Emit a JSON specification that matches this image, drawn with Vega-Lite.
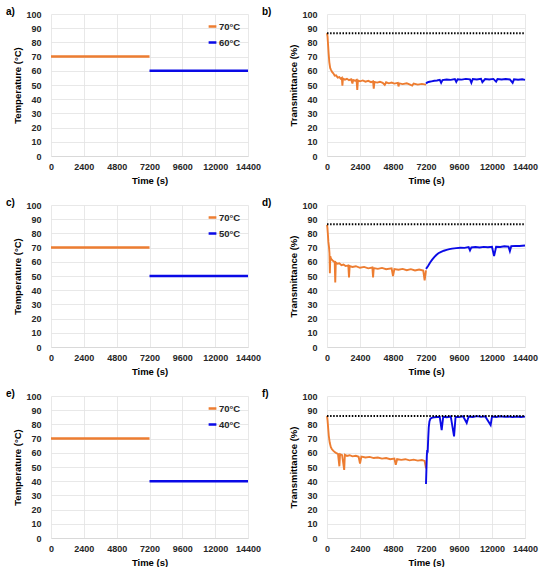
{
  "$schema": "https://vega.github.io/schema/vega-lite/v6.json",
  "padding": {"left": 5, "top": 7, "right": 5, "bottom": 0},
  "background": "white",
  "spacing": 13,
  "config": {
    "view": {"stroke": null},
    "font": "Liberation Sans",
    "axis": {
      "labelFont": "Liberation Sans",
      "labelFontWeight": "bold",
      "labelFontSize": 9,
      "labelColor": "#262626",
      "labelOverlap": false,
      "labelFlush": false,
      "titleFont": "Liberation Sans",
      "titleFontWeight": "bold",
      "titleFontSize": 9.5,
      "titleColor": "#000000",
      "gridColor": "#e2e2e2",
      "gridWidth": 0.8,
      "domainColor": "#d9d9d9",
      "ticks": false
    },
    "axisX": {"labelPadding": 6, "titlePadding": 4},
    "axisY": {"labelPadding": 10, "titlePadding": 3, "domain": false},
    "legend": {
      "labelFont": "Liberation Sans",
      "labelFontWeight": "bold",
      "labelFontSize": 9.5,
      "labelColor": "#262626",
      "symbolType": "stroke",
      "symbolSize": 60,
      "symbolStrokeWidth": 2.5,
      "labelOffset": 1,
      "rowPadding": 5,
      "orient": "top-right",
      "offset": 7
    },
    "title": {"font": "Liberation Sans", "fontSize": 10, "fontWeight": "bold", "anchor": "start", "frame": "bounds", "offset": 0, "dy": 11, "color": "#000000"}
  },
  "datasets": {
    "temp": [
      {"p": "a", "s": "70°C", "t": 0, "v": 70}, {"p": "a", "s": "70°C", "t": 7200, "v": 70},
      {"p": "a", "s": "60°C", "t": 7200, "v": 60}, {"p": "a", "s": "60°C", "t": 14400, "v": 60},
      {"p": "c", "s": "70°C", "t": 0, "v": 70}, {"p": "c", "s": "70°C", "t": 7200, "v": 70},
      {"p": "c", "s": "50°C", "t": 7200, "v": 50}, {"p": "c", "s": "50°C", "t": 14400, "v": 50},
      {"p": "e", "s": "70°C", "t": 0, "v": 70}, {"p": "e", "s": "70°C", "t": 7200, "v": 70},
      {"p": "e", "s": "40°C", "t": 7200, "v": 40}, {"p": "e", "s": "40°C", "t": 14400, "v": 40}
    ],
    "ref": [
      {"p": "b", "t": 0, "v": 86.4}, {"p": "b", "t": 14400, "v": 86.4},
      {"p": "d", "t": 0, "v": 86.5}, {"p": "d", "t": 14400, "v": 86.5},
      {"p": "f", "t": 0, "v": 86}, {"p": "f", "t": 14400, "v": 86}
    ],
    "trans": [
      {"p": "b", "s": "70°C", "t": 0, "v": 86.5}, {"p": "b", "s": "70°C", "t": 40, "v": 84}, {"p": "b", "s": "70°C", "t": 80, "v": 78},
      {"p": "b", "s": "70°C", "t": 120, "v": 72}, {"p": "b", "s": "70°C", "t": 170, "v": 66}, {"p": "b", "s": "70°C", "t": 230, "v": 62},
      {"p": "b", "s": "70°C", "t": 300, "v": 60.5}, {"p": "b", "s": "70°C", "t": 380, "v": 59}, {"p": "b", "s": "70°C", "t": 460, "v": 58.2},
      {"p": "b", "s": "70°C", "t": 560, "v": 56.6}, {"p": "b", "s": "70°C", "t": 660, "v": 56.8}, {"p": "b", "s": "70°C", "t": 780, "v": 55.2},
      {"p": "b", "s": "70°C", "t": 900, "v": 55.6}, {"p": "b", "s": "70°C", "t": 1000, "v": 54.4}, {"p": "b", "s": "70°C", "t": 1080, "v": 55},
      {"p": "b", "s": "70°C", "t": 1120, "v": 49.5}, {"p": "b", "s": "70°C", "t": 1160, "v": 54.5}, {"p": "b", "s": "70°C", "t": 1300, "v": 53.8},
      {"p": "b", "s": "70°C", "t": 1450, "v": 54.4}, {"p": "b", "s": "70°C", "t": 1600, "v": 53.4}, {"p": "b", "s": "70°C", "t": 1750, "v": 54},
      {"p": "b", "s": "70°C", "t": 1850, "v": 51}, {"p": "b", "s": "70°C", "t": 1900, "v": 53.5}, {"p": "b", "s": "70°C", "t": 2050, "v": 53},
      {"p": "b", "s": "70°C", "t": 2150, "v": 53.6}, {"p": "b", "s": "70°C", "t": 2200, "v": 46.5}, {"p": "b", "s": "70°C", "t": 2250, "v": 53.2},
      {"p": "b", "s": "70°C", "t": 2400, "v": 52.6}, {"p": "b", "s": "70°C", "t": 2600, "v": 53.2}, {"p": "b", "s": "70°C", "t": 2800, "v": 52.3},
      {"p": "b", "s": "70°C", "t": 3000, "v": 52.9}, {"p": "b", "s": "70°C", "t": 3200, "v": 52}, {"p": "b", "s": "70°C", "t": 3350, "v": 52.6},
      {"p": "b", "s": "70°C", "t": 3400, "v": 47.5}, {"p": "b", "s": "70°C", "t": 3450, "v": 52.2}, {"p": "b", "s": "70°C", "t": 3650, "v": 51.7},
      {"p": "b", "s": "70°C", "t": 3850, "v": 52.3}, {"p": "b", "s": "70°C", "t": 4050, "v": 51.5}, {"p": "b", "s": "70°C", "t": 4200, "v": 50},
      {"p": "b", "s": "70°C", "t": 4300, "v": 51.9}, {"p": "b", "s": "70°C", "t": 4500, "v": 51.2}, {"p": "b", "s": "70°C", "t": 4700, "v": 51.7},
      {"p": "b", "s": "70°C", "t": 4900, "v": 51}, {"p": "b", "s": "70°C", "t": 5150, "v": 51.5}, {"p": "b", "s": "70°C", "t": 5200, "v": 49},
      {"p": "b", "s": "70°C", "t": 5250, "v": 51.1}, {"p": "b", "s": "70°C", "t": 5500, "v": 50.6}, {"p": "b", "s": "70°C", "t": 5800, "v": 51.2},
      {"p": "b", "s": "70°C", "t": 6000, "v": 50.5}, {"p": "b", "s": "70°C", "t": 6200, "v": 49.6}, {"p": "b", "s": "70°C", "t": 6300, "v": 51},
      {"p": "b", "s": "70°C", "t": 6600, "v": 50.3}, {"p": "b", "s": "70°C", "t": 6900, "v": 50.8}, {"p": "b", "s": "70°C", "t": 7200, "v": 50.3},
      {"p": "b", "s": "60°C", "t": 7200, "v": 51}, {"p": "b", "s": "60°C", "t": 7300, "v": 51.8}, {"p": "b", "s": "60°C", "t": 7450, "v": 52.3},
      {"p": "b", "s": "60°C", "t": 7600, "v": 52.6}, {"p": "b", "s": "60°C", "t": 7800, "v": 53}, {"p": "b", "s": "60°C", "t": 8000, "v": 53.2},
      {"p": "b", "s": "60°C", "t": 8200, "v": 53.6}, {"p": "b", "s": "60°C", "t": 8300, "v": 51.5}, {"p": "b", "s": "60°C", "t": 8400, "v": 53.5},
      {"p": "b", "s": "60°C", "t": 8700, "v": 53.9}, {"p": "b", "s": "60°C", "t": 9000, "v": 53.6}, {"p": "b", "s": "60°C", "t": 9300, "v": 54.1},
      {"p": "b", "s": "60°C", "t": 9400, "v": 52.2}, {"p": "b", "s": "60°C", "t": 9500, "v": 54}, {"p": "b", "s": "60°C", "t": 9800, "v": 53.8},
      {"p": "b", "s": "60°C", "t": 10100, "v": 54.3}, {"p": "b", "s": "60°C", "t": 10400, "v": 54}, {"p": "b", "s": "60°C", "t": 10500, "v": 51.5},
      {"p": "b", "s": "60°C", "t": 10600, "v": 54.2}, {"p": "b", "s": "60°C", "t": 10900, "v": 53.9}, {"p": "b", "s": "60°C", "t": 11200, "v": 54.4},
      {"p": "b", "s": "60°C", "t": 11300, "v": 52}, {"p": "b", "s": "60°C", "t": 11500, "v": 54.2}, {"p": "b", "s": "60°C", "t": 11800, "v": 53.9},
      {"p": "b", "s": "60°C", "t": 12100, "v": 54.3}, {"p": "b", "s": "60°C", "t": 12300, "v": 52.3}, {"p": "b", "s": "60°C", "t": 12400, "v": 54.2},
      {"p": "b", "s": "60°C", "t": 12700, "v": 53.9}, {"p": "b", "s": "60°C", "t": 13000, "v": 54.2}, {"p": "b", "s": "60°C", "t": 13300, "v": 53.9},
      {"p": "b", "s": "60°C", "t": 13500, "v": 51.5}, {"p": "b", "s": "60°C", "t": 13600, "v": 54}, {"p": "b", "s": "60°C", "t": 13900, "v": 53.7},
      {"p": "b", "s": "60°C", "t": 14200, "v": 54}, {"p": "b", "s": "60°C", "t": 14400, "v": 53.6},

      {"p": "d", "s": "70°C", "t": 0, "v": 86}, {"p": "d", "s": "70°C", "t": 30, "v": 84}, {"p": "d", "s": "70°C", "t": 60, "v": 80},
      {"p": "d", "s": "70°C", "t": 100, "v": 74}, {"p": "d", "s": "70°C", "t": 150, "v": 70}, {"p": "d", "s": "70°C", "t": 180, "v": 66},
      {"p": "d", "s": "70°C", "t": 210, "v": 52}, {"p": "d", "s": "70°C", "t": 240, "v": 64}, {"p": "d", "s": "70°C", "t": 280, "v": 62.5},
      {"p": "d", "s": "70°C", "t": 350, "v": 61.5}, {"p": "d", "s": "70°C", "t": 450, "v": 60.5}, {"p": "d", "s": "70°C", "t": 560, "v": 59.8},
      {"p": "d", "s": "70°C", "t": 600, "v": 45.5}, {"p": "d", "s": "70°C", "t": 640, "v": 59.5}, {"p": "d", "s": "70°C", "t": 750, "v": 58.6},
      {"p": "d", "s": "70°C", "t": 900, "v": 58.9}, {"p": "d", "s": "70°C", "t": 1050, "v": 57.6}, {"p": "d", "s": "70°C", "t": 1200, "v": 58.1},
      {"p": "d", "s": "70°C", "t": 1350, "v": 57}, {"p": "d", "s": "70°C", "t": 1550, "v": 57.5}, {"p": "d", "s": "70°C", "t": 1600, "v": 49},
      {"p": "d", "s": "70°C", "t": 1650, "v": 57}, {"p": "d", "s": "70°C", "t": 1850, "v": 56.4}, {"p": "d", "s": "70°C", "t": 2100, "v": 56.9},
      {"p": "d", "s": "70°C", "t": 2400, "v": 55.8}, {"p": "d", "s": "70°C", "t": 2700, "v": 56.4}, {"p": "d", "s": "70°C", "t": 3000, "v": 55.4},
      {"p": "d", "s": "70°C", "t": 3300, "v": 56}, {"p": "d", "s": "70°C", "t": 3350, "v": 49}, {"p": "d", "s": "70°C", "t": 3400, "v": 55.6},
      {"p": "d", "s": "70°C", "t": 3700, "v": 55}, {"p": "d", "s": "70°C", "t": 4000, "v": 55.7}, {"p": "d", "s": "70°C", "t": 4300, "v": 54.8},
      {"p": "d", "s": "70°C", "t": 4700, "v": 55.4}, {"p": "d", "s": "70°C", "t": 4800, "v": 50}, {"p": "d", "s": "70°C", "t": 4900, "v": 54.9},
      {"p": "d", "s": "70°C", "t": 5200, "v": 54.4}, {"p": "d", "s": "70°C", "t": 5500, "v": 55}, {"p": "d", "s": "70°C", "t": 5800, "v": 54.1},
      {"p": "d", "s": "70°C", "t": 6100, "v": 54.8}, {"p": "d", "s": "70°C", "t": 6400, "v": 53.9}, {"p": "d", "s": "70°C", "t": 6700, "v": 54.6},
      {"p": "d", "s": "70°C", "t": 7000, "v": 53.8}, {"p": "d", "s": "70°C", "t": 7100, "v": 47}, {"p": "d", "s": "70°C", "t": 7200, "v": 54},
      {"p": "d", "s": "50°C", "t": 7200, "v": 55}, {"p": "d", "s": "50°C", "t": 7350, "v": 57}, {"p": "d", "s": "50°C", "t": 7500, "v": 59.5},
      {"p": "d", "s": "50°C", "t": 7650, "v": 61.5}, {"p": "d", "s": "50°C", "t": 7800, "v": 63.3}, {"p": "d", "s": "50°C", "t": 7950, "v": 64.8},
      {"p": "d", "s": "50°C", "t": 8100, "v": 66}, {"p": "d", "s": "50°C", "t": 8300, "v": 67}, {"p": "d", "s": "50°C", "t": 8500, "v": 67.8},
      {"p": "d", "s": "50°C", "t": 8700, "v": 68.4}, {"p": "d", "s": "50°C", "t": 8900, "v": 68.9}, {"p": "d", "s": "50°C", "t": 9100, "v": 69.3},
      {"p": "d", "s": "50°C", "t": 9400, "v": 69.6}, {"p": "d", "s": "50°C", "t": 9700, "v": 69.9}, {"p": "d", "s": "50°C", "t": 10000, "v": 69.8},
      {"p": "d", "s": "50°C", "t": 10300, "v": 70.3}, {"p": "d", "s": "50°C", "t": 10400, "v": 68}, {"p": "d", "s": "50°C", "t": 10500, "v": 70.1},
      {"p": "d", "s": "50°C", "t": 10800, "v": 70.4}, {"p": "d", "s": "50°C", "t": 11100, "v": 70.1}, {"p": "d", "s": "50°C", "t": 11400, "v": 70.5},
      {"p": "d", "s": "50°C", "t": 11700, "v": 70.2}, {"p": "d", "s": "50°C", "t": 12000, "v": 70.6}, {"p": "d", "s": "50°C", "t": 12150, "v": 64},
      {"p": "d", "s": "50°C", "t": 12300, "v": 70.6}, {"p": "d", "s": "50°C", "t": 12600, "v": 70.4}, {"p": "d", "s": "50°C", "t": 12900, "v": 70.9},
      {"p": "d", "s": "50°C", "t": 13200, "v": 70.7}, {"p": "d", "s": "50°C", "t": 13300, "v": 67.5}, {"p": "d", "s": "50°C", "t": 13400, "v": 71},
      {"p": "d", "s": "50°C", "t": 13700, "v": 71.2}, {"p": "d", "s": "50°C", "t": 14000, "v": 71.1}, {"p": "d", "s": "50°C", "t": 14400, "v": 71.5},

      {"p": "f", "s": "70°C", "t": 0, "v": 86}, {"p": "f", "s": "70°C", "t": 40, "v": 83}, {"p": "f", "s": "70°C", "t": 80, "v": 78},
      {"p": "f", "s": "70°C", "t": 130, "v": 72}, {"p": "f", "s": "70°C", "t": 200, "v": 67}, {"p": "f", "s": "70°C", "t": 280, "v": 64},
      {"p": "f", "s": "70°C", "t": 360, "v": 62.5}, {"p": "f", "s": "70°C", "t": 450, "v": 61.5}, {"p": "f", "s": "70°C", "t": 560, "v": 60.5},
      {"p": "f", "s": "70°C", "t": 680, "v": 59.8}, {"p": "f", "s": "70°C", "t": 800, "v": 59.2}, {"p": "f", "s": "70°C", "t": 900, "v": 50.5},
      {"p": "f", "s": "70°C", "t": 950, "v": 59}, {"p": "f", "s": "70°C", "t": 1100, "v": 58.4}, {"p": "f", "s": "70°C", "t": 1250, "v": 48},
      {"p": "f", "s": "70°C", "t": 1300, "v": 58.6}, {"p": "f", "s": "70°C", "t": 1450, "v": 57.8}, {"p": "f", "s": "70°C", "t": 1650, "v": 58.3},
      {"p": "f", "s": "70°C", "t": 1850, "v": 57.5}, {"p": "f", "s": "70°C", "t": 2100, "v": 57.9}, {"p": "f", "s": "70°C", "t": 2300, "v": 57.2},
      {"p": "f", "s": "70°C", "t": 2400, "v": 52.5}, {"p": "f", "s": "70°C", "t": 2500, "v": 57.3}, {"p": "f", "s": "70°C", "t": 2800, "v": 56.7},
      {"p": "f", "s": "70°C", "t": 3100, "v": 57.1}, {"p": "f", "s": "70°C", "t": 3400, "v": 56.3}, {"p": "f", "s": "70°C", "t": 3700, "v": 56.7},
      {"p": "f", "s": "70°C", "t": 4000, "v": 55.9}, {"p": "f", "s": "70°C", "t": 4300, "v": 56.3}, {"p": "f", "s": "70°C", "t": 4600, "v": 55.5},
      {"p": "f", "s": "70°C", "t": 4900, "v": 55.9}, {"p": "f", "s": "70°C", "t": 5000, "v": 51.5}, {"p": "f", "s": "70°C", "t": 5100, "v": 55.5},
      {"p": "f", "s": "70°C", "t": 5400, "v": 55}, {"p": "f", "s": "70°C", "t": 5700, "v": 55.5}, {"p": "f", "s": "70°C", "t": 6000, "v": 54.7},
      {"p": "f", "s": "70°C", "t": 6300, "v": 55.2}, {"p": "f", "s": "70°C", "t": 6600, "v": 54.5}, {"p": "f", "s": "70°C", "t": 6900, "v": 54.9},
      {"p": "f", "s": "70°C", "t": 7100, "v": 54.3}, {"p": "f", "s": "70°C", "t": 7200, "v": 49},
      {"p": "f", "s": "40°C", "t": 7200, "v": 38}, {"p": "f", "s": "40°C", "t": 7230, "v": 48}, {"p": "f", "s": "40°C", "t": 7260, "v": 58},
      {"p": "f", "s": "40°C", "t": 7290, "v": 62}, {"p": "f", "s": "40°C", "t": 7320, "v": 60}, {"p": "f", "s": "40°C", "t": 7360, "v": 70},
      {"p": "f", "s": "40°C", "t": 7400, "v": 78}, {"p": "f", "s": "40°C", "t": 7450, "v": 82}, {"p": "f", "s": "40°C", "t": 7520, "v": 84},
      {"p": "f", "s": "40°C", "t": 7650, "v": 84.8}, {"p": "f", "s": "40°C", "t": 7800, "v": 85}, {"p": "f", "s": "40°C", "t": 8000, "v": 85.2},
      {"p": "f", "s": "40°C", "t": 8200, "v": 85.3}, {"p": "f", "s": "40°C", "t": 8340, "v": 76}, {"p": "f", "s": "40°C", "t": 8450, "v": 85.3},
      {"p": "f", "s": "40°C", "t": 8700, "v": 85}, {"p": "f", "s": "40°C", "t": 9000, "v": 85.6}, {"p": "f", "s": "40°C", "t": 9240, "v": 71.5},
      {"p": "f", "s": "40°C", "t": 9350, "v": 85.4}, {"p": "f", "s": "40°C", "t": 9600, "v": 85.1}, {"p": "f", "s": "40°C", "t": 9900, "v": 85.7},
      {"p": "f", "s": "40°C", "t": 10160, "v": 81}, {"p": "f", "s": "40°C", "t": 10300, "v": 85.5}, {"p": "f", "s": "40°C", "t": 10600, "v": 85.2},
      {"p": "f", "s": "40°C", "t": 10900, "v": 85.8}, {"p": "f", "s": "40°C", "t": 11200, "v": 85.3}, {"p": "f", "s": "40°C", "t": 11500, "v": 85.7},
      {"p": "f", "s": "40°C", "t": 11900, "v": 79.5}, {"p": "f", "s": "40°C", "t": 12000, "v": 85.6}, {"p": "f", "s": "40°C", "t": 12300, "v": 85.2},
      {"p": "f", "s": "40°C", "t": 12600, "v": 85.7}, {"p": "f", "s": "40°C", "t": 12900, "v": 85.3}, {"p": "f", "s": "40°C", "t": 13200, "v": 85.6},
      {"p": "f", "s": "40°C", "t": 13500, "v": 85.1}, {"p": "f", "s": "40°C", "t": 13800, "v": 85.6}, {"p": "f", "s": "40°C", "t": 14100, "v": 85.2},
      {"p": "f", "s": "40°C", "t": 14400, "v": 85.5}
    ]
  },
  "resolve": {"scale": {"color": "independent"}},
  "vconcat": [
    {
      "spacing": 0,
      "resolve": {"scale": {"color": "independent"}},
      "hconcat": [
        {
          "title": {"text": "a)", "dx": -7},
          "width": 197, "height": 142,
          "data": {"name": "temp"},
          "transform": [{"filter": "datum.p === 'a'"}],
          "mark": {"type": "line", "strokeWidth": 2.5},
          "encoding": {
            "x": {"field": "t", "type": "quantitative", "scale": {"domain": [0, 14400], "nice": false}, "axis": {"title": "Time (s)", "format": "d", "values": [0, 2400, 4800, 7200, 9600, 12000, 14400]}},
            "y": {"field": "v", "type": "quantitative", "scale": {"domain": [0, 100], "nice": false}, "axis": {"title": "Temperature (°C)", "values": [0, 10, 20, 30, 40, 50, 60, 70, 80, 90, 100]}},
            "color": {"field": "s", "type": "nominal", "scale": {"domain": ["70°C", "60°C"], "range": ["#ED7D31", "#0A0AE6"]}, "legend": {"title": null}}
          }
        },
        {
          "title": {"text": "b)", "dx": -27},
          "width": 198, "height": 142,
          "encoding": {
            "x": {"field": "t", "type": "quantitative", "scale": {"domain": [0, 14400], "nice": false}, "axis": {"title": "Time (s)", "format": "d", "values": [0, 2400, 4800, 7200, 9600, 12000, 14400]}},
            "y": {"field": "v", "type": "quantitative", "scale": {"domain": [0, 100], "nice": false}, "axis": {"title": "Transmittance (%)", "values": [0, 10, 20, 30, 40, 50, 60, 70, 80, 90, 100]}}
          },
          "layer": [
            {
              "data": {"name": "trans"},
              "transform": [{"filter": "datum.p === 'b'"}],
              "mark": {"type": "line", "strokeWidth": 1.9},
              "encoding": {
                "color": {"field": "s", "type": "nominal", "scale": {"domain": ["70°C", "60°C"], "range": ["#ED7D31", "#0A0AE6"]}, "legend": null}
              }
            },
            {
              "data": {"name": "ref"},
              "transform": [{"filter": "datum.p === 'b'"}],
              "mark": {"type": "line", "color": "#000000", "strokeWidth": 2, "strokeDash": [1.5, 1.6]},
              "encoding": {}
            }
          ]
        }
      ]
    },
    {
      "spacing": 0,
      "resolve": {"scale": {"color": "independent"}},
      "hconcat": [
        {
          "title": {"text": "c)", "dx": -7},
          "width": 197, "height": 142,
          "data": {"name": "temp"},
          "transform": [{"filter": "datum.p === 'c'"}],
          "mark": {"type": "line", "strokeWidth": 2.5},
          "encoding": {
            "x": {"field": "t", "type": "quantitative", "scale": {"domain": [0, 14400], "nice": false}, "axis": {"title": "Time (s)", "format": "d", "values": [0, 2400, 4800, 7200, 9600, 12000, 14400]}},
            "y": {"field": "v", "type": "quantitative", "scale": {"domain": [0, 100], "nice": false}, "axis": {"title": "Temperature (°C)", "values": [0, 10, 20, 30, 40, 50, 60, 70, 80, 90, 100]}},
            "color": {"field": "s", "type": "nominal", "scale": {"domain": ["70°C", "50°C"], "range": ["#ED7D31", "#0A0AE6"]}, "legend": {"title": null}}
          }
        },
        {
          "title": {"text": "d)", "dx": -27},
          "width": 198, "height": 142,
          "encoding": {
            "x": {"field": "t", "type": "quantitative", "scale": {"domain": [0, 14400], "nice": false}, "axis": {"title": "Time (s)", "format": "d", "values": [0, 2400, 4800, 7200, 9600, 12000, 14400]}},
            "y": {"field": "v", "type": "quantitative", "scale": {"domain": [0, 100], "nice": false}, "axis": {"title": "Transmittance (%)", "values": [0, 10, 20, 30, 40, 50, 60, 70, 80, 90, 100]}}
          },
          "layer": [
            {
              "data": {"name": "trans"},
              "transform": [{"filter": "datum.p === 'd'"}],
              "mark": {"type": "line", "strokeWidth": 1.9},
              "encoding": {
                "color": {"field": "s", "type": "nominal", "scale": {"domain": ["70°C", "50°C"], "range": ["#ED7D31", "#0A0AE6"]}, "legend": null}
              }
            },
            {
              "data": {"name": "ref"},
              "transform": [{"filter": "datum.p === 'd'"}],
              "mark": {"type": "line", "color": "#000000", "strokeWidth": 2, "strokeDash": [1.5, 1.6]},
              "encoding": {}
            }
          ]
        }
      ]
    },
    {
      "spacing": 0,
      "resolve": {"scale": {"color": "independent"}},
      "hconcat": [
        {
          "title": {"text": "e)", "dx": -7},
          "width": 197, "height": 142,
          "data": {"name": "temp"},
          "transform": [{"filter": "datum.p === 'e'"}],
          "mark": {"type": "line", "strokeWidth": 2.5},
          "encoding": {
            "x": {"field": "t", "type": "quantitative", "scale": {"domain": [0, 14400], "nice": false}, "axis": {"title": "Time (s)", "format": "d", "values": [0, 2400, 4800, 7200, 9600, 12000, 14400]}},
            "y": {"field": "v", "type": "quantitative", "scale": {"domain": [0, 100], "nice": false}, "axis": {"title": "Temperature (°C)", "values": [0, 10, 20, 30, 40, 50, 60, 70, 80, 90, 100]}},
            "color": {"field": "s", "type": "nominal", "scale": {"domain": ["70°C", "40°C"], "range": ["#ED7D31", "#0A0AE6"]}, "legend": {"title": null}}
          }
        },
        {
          "title": {"text": "f)", "dx": -27},
          "width": 198, "height": 142,
          "encoding": {
            "x": {"field": "t", "type": "quantitative", "scale": {"domain": [0, 14400], "nice": false}, "axis": {"title": "Time (s)", "format": "d", "values": [0, 2400, 4800, 7200, 9600, 12000, 14400]}},
            "y": {"field": "v", "type": "quantitative", "scale": {"domain": [0, 100], "nice": false}, "axis": {"title": "Transmittance (%)", "values": [0, 10, 20, 30, 40, 50, 60, 70, 80, 90, 100]}}
          },
          "layer": [
            {
              "data": {"name": "trans"},
              "transform": [{"filter": "datum.p === 'f'"}],
              "mark": {"type": "line", "strokeWidth": 1.9},
              "encoding": {
                "color": {"field": "s", "type": "nominal", "scale": {"domain": ["70°C", "40°C"], "range": ["#ED7D31", "#0A0AE6"]}, "legend": null}
              }
            },
            {
              "data": {"name": "ref"},
              "transform": [{"filter": "datum.p === 'f'"}],
              "mark": {"type": "line", "color": "#000000", "strokeWidth": 2, "strokeDash": [1.5, 1.6]},
              "encoding": {}
            }
          ]
        }
      ]
    }
  ]
}
